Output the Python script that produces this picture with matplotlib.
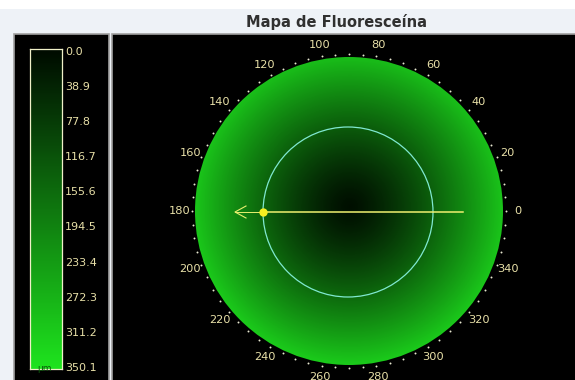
import numpy as np
import matplotlib
matplotlib.use('Agg')
import matplotlib.pyplot as plt
from matplotlib.patches import Rectangle, Circle
from matplotlib.colors import LinearSegmentedColormap

# scale of the colour bar (um)
cb_levels = [0.0, 38.9, 77.8, 116.7, 155.6, 194.5, 233.4, 272.3, 311.2, 350.1]
cb_unit = 'µm'
# angle labels around the map (degrees)
angle_labels = [0, 20, 40, 60, 80, 100, 120, 140, 160, 180,
                200, 220, 240, 260, 280, 300, 320, 340]
angle_dots = list(range(0, 360, 5))
# map values: centre (darkest) and rim (brightest)
map_center_value = 5.0
map_edge_value = 300.0
meridian_angle = 180

W, H = 575, 380
fig = plt.figure(figsize=(W / 100, H / 100), dpi=100, facecolor='#eef2f7')
ax = fig.add_axes([0, 0, 1, 1])
ax.set_xlim(0, W)
ax.set_ylim(H, 0)
ax.axis('off')

cmap = LinearSegmentedColormap.from_list('fluo', ['#000c00', '#1ee21e'])
lab_col = '#e8e0a8'

# top white strip + title
ax.add_patch(Rectangle((0, 0), W, 9, facecolor='white', edgecolor='none'))
ax.text(336, 22, 'Mapa de Fluoresceína', ha='center', va='center',
        fontsize=10.5, fontweight='bold', color='#303030')

# panels
ax.add_patch(Rectangle((13.5, 33.5), 95, 360, facecolor='black',
                       edgecolor='#a0a0a0', lw=1.2))
ax.add_patch(Rectangle((111.5, 33.5), 470, 360, facecolor='black',
                       edgecolor='#a0a0a0', lw=1.2))

# colour bar
cb_top, cb_bot = 49, 369
vmin = cb_levels[0] - 1.7
vmax = cb_levels[-1] + 2.2
cax = fig.add_axes([30 / W, 1 - cb_bot / H, 32 / W, (cb_bot - cb_top) / H])
grad = np.linspace(vmin, vmax, 256).reshape(-1, 1)
cax.imshow(grad, cmap=cmap, vmin=cb_levels[0], vmax=cb_levels[-1],
           aspect='auto', extent=[0, 1, vmax, vmin])
cax.set_ylim(vmax, vmin)
cax.set_xticks([])
cax.yaxis.tick_right()
cax.set_yticks(cb_levels)
cax.set_yticklabels(['%.1f' % v for v in cb_levels])
cax.tick_params(axis='y', length=0, pad=2, labelsize=8, labelcolor=lab_col)
for s in cax.spines.values():
    s.set_color('#f0f0c8')
    s.set_linewidth(0.9)
cax.text(0.45, 352, cb_unit, ha='center', va='center', fontsize=6.5,
         color='#0a5a0a')

# fluorescein map
cx, cy, R = 349, 211, 154
n = 300
xs = np.linspace(-1, 1, n)
X, Y = np.meshgrid(xs, xs)
rr = np.sqrt((X - 0.005) ** 2 + (Y + 0.03) ** 2)
vals = map_center_value + (map_edge_value - map_center_value) * np.clip(rr, 0, 1.1) ** 1.3
im = ax.imshow(vals, cmap=cmap, vmin=cb_levels[0], vmax=cb_levels[-1],
               extent=(cx - R, cx + R, cy + R, cy - R), origin='upper',
               interpolation='bilinear', zorder=2)
clip = Circle((cx, cy), R, transform=ax.transData)
im.set_clip_path(clip)

# dots and angle labels
for a in angle_dots:
    t = np.radians(a)
    ax.plot(cx + 157 * np.cos(t), cy - 157 * np.sin(t), 'o', ms=1.4,
            color='#e8e8d0', mec='none', zorder=3)
for a in angle_labels:
    t = np.radians(a)
    ax.text(cx + 169 * np.cos(t), cy - 169 * np.sin(t), str(a),
            ha='center', va='center', fontsize=8.2, color=lab_col, zorder=3)

# inner circle and meridian
ax.add_patch(Circle((cx - 1, cy + 1), 85, fill=False, edgecolor='#7fe8d0',
                    lw=0.9, zorder=4))
x_dot = cx - 86
ax.plot([x_dot, cx + 114], [cy + 1, cy + 1], color='#f0f070', lw=1.1, zorder=4)
ax.plot([x_dot - 28, x_dot], [cy + 1, cy + 1], color='#e8f070', lw=0.7, zorder=4)
ax.plot([x_dot - 17, x_dot - 28, x_dot - 17], [cy - 5, cy + 1, cy + 7],
        color='#e8f070', lw=0.8, zorder=4)
ax.plot(x_dot, cy + 1, 'o', ms=6, color='#f5f020', mec='none', zorder=5)

fig.savefig('out.png', dpi=100, facecolor=fig.get_facecolor())
